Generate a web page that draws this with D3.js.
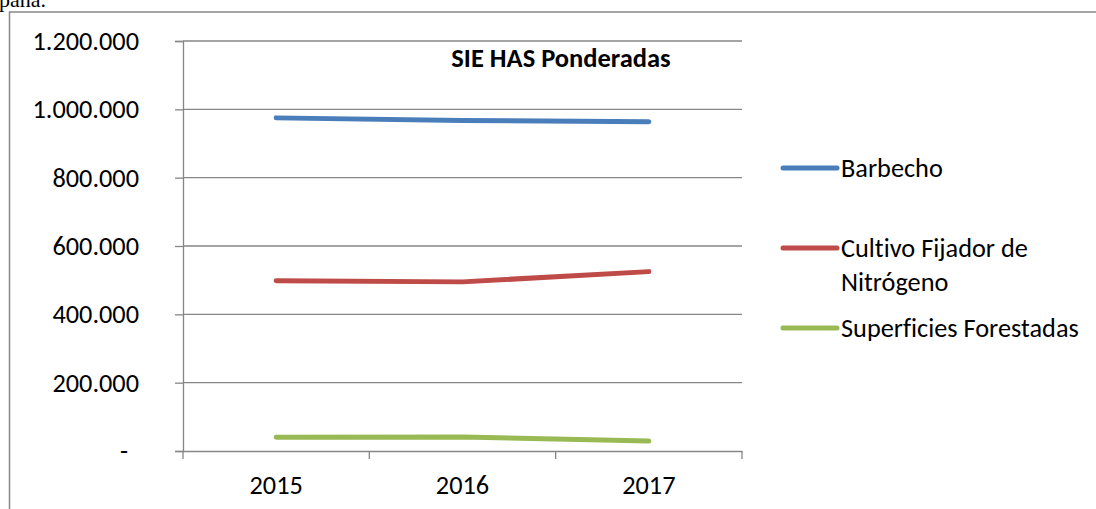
<!DOCTYPE html>
<html>
<head>
<meta charset="utf-8">
<script src="https://cdn.jsdelivr.net/npm/d3@7"></script>
<style>
  body { margin: 0; background: #fff; }
  svg { display: block; }
  .lbl { font-family: Carlito, Lato, "Open Sans", sans-serif; font-size: 26.3px; fill: #000;
         font-variant-ligatures: none; font-feature-settings: "liga" 0; }
</style>
</head>
<body>
<svg id="chart" width="1096" height="509"></svg>
<script>
'use strict';

// data
var years = ['2015', '2016', '2017'];
var seriesNames = ['Barbecho', 'Cultivo Fijador de Nitrógeno', 'Superficies Forestadas'];
var barbecho = [975000, 967000, 964000];
var cultivo = [498000, 495000, 525000];
var forestadas = [40000, 41000, 29000];
var yTicks = [0, 200000, 400000, 600000, 800000, 1000000, 1200000];

var colors = ['#4a7ebb', '#be4b48', '#98b954'];
var series = [barbecho, cultivo, forestadas];

var svg = d3.select('#chart');

// bits of the surrounding document
svg.append('text')
  .attr('x', -1).attr('y', 7)
  .style('font-family', '"Liberation Serif", "Times New Roman", serif')
  .style('font-size', '22px')
  .text('paña.');

svg.append('rect')
  .attr('x', 9.5).attr('y', 12)
  .attr('width', 1200).attr('height', 600)
  .attr('fill', 'none').attr('stroke', '#888').attr('stroke-width', 1.5);

var plotL = 183, plotR = 742, plotT = 41, plotB = 451;

var x = d3.scaleBand().domain(years).range([plotL, plotR]);
var y = d3.scaleLinear().domain([0, 1200000]).range([plotB, plotT]);

function fmt(v) {
  if (v === 0) return '-';
  return d3.format(',')(v).replace(/,/g, '.');
}

// gridlines
svg.append('g').selectAll('line').data(yTicks.slice(1)).enter().append('line')
  .attr('x1', plotL).attr('x2', plotR)
  .attr('y1', function(d) { return y(d); }).attr('y2', function(d) { return y(d); })
  .attr('stroke', '#868686').attr('stroke-width', 1.3);

// y axis
var yAxis = svg.append('g').attr('transform', 'translate(' + plotL + ',0)')
  .call(d3.axisLeft(y).tickValues(yTicks).tickSize(8).tickPadding(36).tickFormat(fmt));
yAxis.select('.domain').attr('stroke', '#868686').attr('stroke-width', 1.3);
yAxis.selectAll('.tick line').attr('stroke', '#868686').attr('stroke-width', 1.3);
yAxis.selectAll('.tick text').attr('class', 'lbl').attr('dy', '0.32em')
  .attr('dx', function(d) { return d === 0 ? -11 : 0; });

// x axis
var xAxis = svg.append('g').attr('transform', 'translate(0,' + plotB + ')')
  .call(d3.axisBottom(x).tickSize(0).tickPadding(24));
xAxis.select('.domain').attr('stroke', '#868686').attr('stroke-width', 1.3);
xAxis.selectAll('.tick text').attr('class', 'lbl');
svg.append('g').selectAll('line').data(years.concat(['end'])).enter().append('line')
  .attr('x1', function(d, i) { return plotL + i * x.step(); })
  .attr('x2', function(d, i) { return plotL + i * x.step(); })
  .attr('y1', plotB).attr('y2', plotB + 8)
  .attr('stroke', '#868686').attr('stroke-width', 1.3);

// lines
var line = d3.line()
  .x(function(d, i) { return x(years[i]) + x.bandwidth() / 2; })
  .y(function(d) { return y(d); });

svg.append('g').selectAll('path').data(series).enter().append('path')
  .attr('d', line)
  .attr('fill', 'none')
  .attr('stroke', function(d, i) { return colors[i]; })
  .attr('stroke-width', 5)
  .attr('stroke-linecap', 'round')
  .attr('stroke-linejoin', 'round');

// title
svg.append('text')
  .attr('class', 'lbl')
  .attr('x', 561).attr('y', 67)
  .attr('text-anchor', 'middle')
  .style('font-weight', 'bold')
  .style('font-size', '26.5px')
  .text('SIE HAS Ponderadas');

// legend
var legendY = [168, 248, 328];
var legendLines = [['Barbecho'], ['Cultivo Fijador de', 'Nitrógeno'], ['Superficies Forestadas']];
var lg = svg.append('g').selectAll('g').data(seriesNames).enter().append('g')
  .attr('transform', function(d, i) { return 'translate(0,' + legendY[i] + ')'; });
lg.append('line')
  .attr('x1', 783).attr('x2', 837)
  .attr('stroke', function(d, i) { return colors[i]; })
  .attr('stroke-width', 5)
  .attr('stroke-linecap', 'round');
lg.append('text')
  .attr('class', 'lbl')
  .attr('x', 841).attr('y', 8.5)
  .selectAll('tspan').data(function(d, i) { return legendLines[i]; }).enter().append('tspan')
  .attr('x', 841)
  .attr('dy', function(d, j) { return j === 0 ? 0 : 34; })
  .text(function(d) { return d; });
</script>
</body>
</html>
